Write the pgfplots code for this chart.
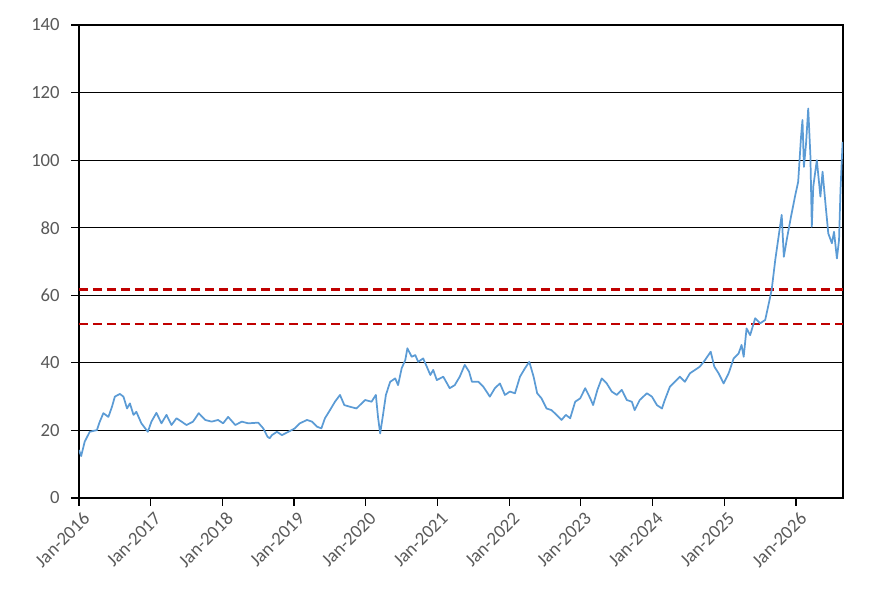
\documentclass[border=0pt]{standalone}
\usepackage{fontspec}
\setmainfont{Carlito}
\usepackage{pgfplots}
\pgfplotsset{compat=1.18}
\definecolor{lineblue}{RGB}{91,155,213}
\definecolor{dred}{RGB}{192,0,0}
\definecolor{tgray}{RGB}{89,89,89}
\begin{document}
\begin{tikzpicture}
\begin{axis}[
  scale only axis,
  width=573pt, height=354.75pt,
  xmin=2016, xmax=2026.655,
  ymin=0, ymax=140,
  ytick={0,20,...,140},
  xtick={2016,2017,...,2026},
  xticklabels={Jan-2016,Jan-2017,Jan-2018,Jan-2019,Jan-2020,Jan-2021,Jan-2022,Jan-2023,Jan-2024,Jan-2025,Jan-2026},
  ymajorgrids,
  grid style={black, line width=0.9pt},
  axis line style={black, line width=0.9pt},
  tick style={black, line width=0.9pt},
  tick align=outside,
  tick pos=left,
  major tick length=6pt,
  /pgf/number format/assume math mode=true,
  ticklabel style={font=\fontsize{14}{16}\selectfont, text=tgray},
  yticklabel style={xshift=-5pt},
  xticklabel style={rotate=45, anchor=north east, inner sep=1pt, yshift=-3pt},
  clip=true,
]
\addplot[dred, line width=2.2pt, dash pattern=on 6.75pt off 3.75pt] coordinates {(2016,61.8) (2026.655,61.8)};
\addplot[dred, line width=2.2pt, dash pattern=on 6.75pt off 3.75pt] coordinates {(2016,51.5) (2026.655,51.5)};
\addplot[lineblue, line width=1.3pt, line join=round] coordinates {
(2016.00,14.2) (2016.03,12.4) (2016.08,16.7) (2016.15,19.6) (2016.25,20.1) (2016.29,22.6)
(2016.34,25.1) (2016.41,24.0) (2016.46,27.0) (2016.50,30.0) (2016.57,30.8) (2016.62,30.0)
(2016.67,26.5) (2016.71,28.0) (2016.76,24.6) (2016.80,25.5) (2016.87,22.1) (2016.96,19.6)
(2017.01,22.6) (2017.08,25.2) (2017.15,22.1) (2017.22,24.6) (2017.29,21.6) (2017.36,23.6)
(2017.43,22.6) (2017.50,21.6) (2017.59,22.6) (2017.67,25.1) (2017.76,23.1) (2017.85,22.6)
(2017.94,23.1) (2018.01,22.1) (2018.08,24.0) (2018.18,21.6) (2018.27,22.6) (2018.36,22.1)
(2018.50,22.3) (2018.57,20.6) (2018.63,18.1) (2018.66,17.7) (2018.69,18.6) (2018.76,19.6)
(2018.83,18.6) (2018.92,19.6) (2019.01,20.6) (2019.08,22.1) (2019.18,23.1) (2019.25,22.6)
(2019.32,21.1) (2019.38,20.6) (2019.43,23.6) (2019.50,26.0) (2019.57,28.5) (2019.64,30.5)
(2019.70,27.5) (2019.78,27.0) (2019.87,26.5) (2019.99,29.0) (2020.08,28.5) (2020.14,30.5)
(2020.17,24.0) (2020.20,19.1) (2020.24,24.6) (2020.28,30.5) (2020.34,34.4) (2020.41,35.4)
(2020.45,33.4) (2020.50,38.4) (2020.55,40.8) (2020.58,44.3) (2020.64,41.8) (2020.69,42.3)
(2020.73,40.3) (2020.80,41.3) (2020.85,38.9) (2020.90,36.4) (2020.94,37.9) (2020.99,34.9)
(2021.08,35.9) (2021.17,32.5) (2021.24,33.4) (2021.31,35.9) (2021.38,39.4) (2021.44,37.4)
(2021.48,34.4) (2021.57,34.4) (2021.64,32.9) (2021.73,30.0) (2021.80,32.5) (2021.87,33.9)
(2021.94,30.5) (2022.01,31.5) (2022.08,31.0) (2022.15,35.9) (2022.22,38.4) (2022.28,40.3)
(2022.34,35.9) (2022.39,31.0) (2022.45,29.5) (2022.52,26.5) (2022.59,26.0) (2022.66,24.6)
(2022.73,23.1) (2022.79,24.6) (2022.85,23.6) (2022.92,28.5) (2022.99,29.5) (2023.06,32.5)
(2023.13,29.5) (2023.17,27.5) (2023.23,32.0) (2023.29,35.4) (2023.36,33.9) (2023.43,31.5)
(2023.50,30.5) (2023.57,32.0) (2023.64,29.0) (2023.71,28.5) (2023.75,26.0) (2023.82,29.0)
(2023.92,31.0) (2023.99,30.0) (2024.06,27.5) (2024.13,26.5) (2024.17,29.0) (2024.24,32.9)
(2024.31,34.4) (2024.38,35.9) (2024.45,34.4) (2024.52,36.9) (2024.59,37.9) (2024.66,38.9)
(2024.73,40.8) (2024.81,43.3) (2024.86,38.9) (2024.92,36.9) (2024.99,33.9) (2025.06,36.9)
(2025.13,41.3) (2025.20,42.8) (2025.24,45.3) (2025.27,41.8) (2025.31,50.2) (2025.36,48.2)
(2025.43,53.2) (2025.50,51.7) (2025.57,52.7) (2025.61,56.6) (2025.66,61.6) (2025.71,70.4)
(2025.75,76.4) (2025.80,83.8) (2025.83,71.4) (2025.87,76.4) (2025.93,83.3) (2025.99,89.7)
(2026.03,93.6) (2026.07,107.0) (2026.09,111.9) (2026.11,98.0) (2026.14,105.0) (2026.17,115.3)
(2026.20,101.5) (2026.22,80.3) (2026.24,92.1) (2026.29,100.0) (2026.34,89.2) (2026.37,96.6)
(2026.41,87.2) (2026.45,78.3) (2026.50,75.4) (2026.53,78.8) (2026.57,70.9) (2026.60,76.4)
(2026.62,91.2) (2026.65,105.4)
};
\end{axis}
\pgfresetboundingbox
\path[use as bounding box] ([shift={(-59.25pt,-75pt)}]current axis.south west) rectangle ([shift={(32.25pt,18.75pt)}]current axis.north east);
\end{tikzpicture}
\end{document}
